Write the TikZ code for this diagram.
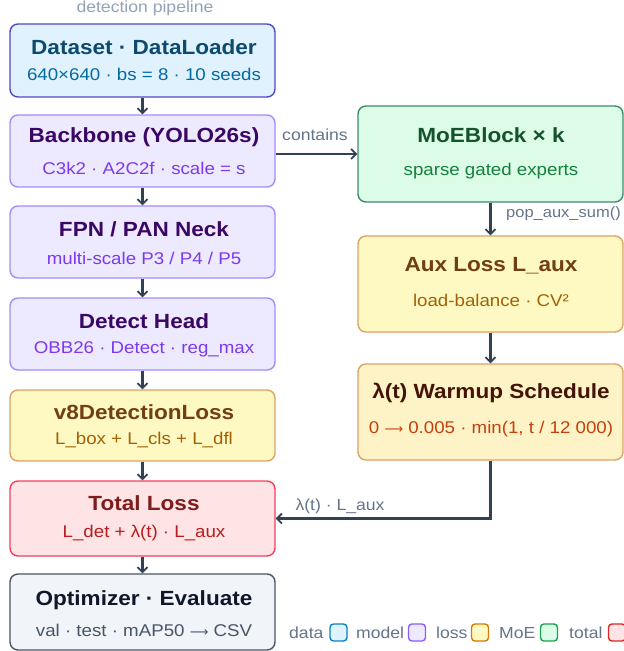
\documentclass[tikz,border=0pt]{standalone}
\usepackage{fontspec}
\setmainfont[FakeStretch=1.1]{Liberation Sans}
\newfontfamily\arrowfont{DejaVu Sans}
\newcommand{\rarr}{{\arrowfont\fontsize{13}{15}\selectfont ⟶}}
\usetikzlibrary{arrows.meta,calc}
\definecolor{arrowc}{HTML}{334155}
\definecolor{labelc}{HTML}{64748B}
\definecolor{headc}{HTML}{94A3B8}
\definecolor{dataF}{HTML}{E0F2FE}\definecolor{dataB}{HTML}{5146C9}\definecolor{dataT}{HTML}{0C4A6E}\definecolor{dataS}{HTML}{0369A1}
\definecolor{modF}{HTML}{EDE9FE}\definecolor{modB}{HTML}{A78BFA}\definecolor{modT}{HTML}{3B0764}\definecolor{modS}{HTML}{7C3AED}
\definecolor{lossF}{HTML}{FEF9C3}\definecolor{lossF2}{HTML}{FEF3C7}\definecolor{lossB}{HTML}{DDA266}\definecolor{lossT}{HTML}{713F12}\definecolor{lossS}{HTML}{A16207}
\definecolor{lamT}{HTML}{431407}\definecolor{lamS}{HTML}{C2410C}
\definecolor{moeF}{HTML}{DCFCE7}\definecolor{moeB}{HTML}{3D8B6D}\definecolor{moeT}{HTML}{14532D}\definecolor{moeS}{HTML}{15803D}
\definecolor{totF}{HTML}{FFE4E6}\definecolor{totB}{HTML}{F43F5E}\definecolor{totT}{HTML}{7F1D1D}\definecolor{totS}{HTML}{B91C1C}
\definecolor{optF}{HTML}{F1F5F9}\definecolor{optB}{HTML}{4B5563}\definecolor{optT}{HTML}{0F172A}\definecolor{optS}{HTML}{475569}
\definecolor{lgDataB}{HTML}{0284C7}\definecolor{lgModB}{HTML}{8B5CF6}\definecolor{lgLossB}{HTML}{D97706}\definecolor{lgMoeB}{HTML}{16A34A}\definecolor{lgTotB}{HTML}{DC2626}
\tikzset{
  box/.style={draw, rounded corners=8pt, line width=1.4pt, inner sep=0pt, minimum width=265pt},
  ttl/.style={font=\fontsize{20.5}{22}\selectfont\bfseries, inner sep=0pt},
  sub/.style={font=\fontsize{17}{19}\selectfont, inner sep=0pt},
  lbl/.style={font=\fontsize{16}{18}\selectfont, text=labelc, inner sep=0pt},
  conn/.style={draw=arrowc, line width=2.4pt, -{Straight Barb[length=5pt,width=10pt,line width=1.8pt]}},
  lgbox/.style={draw, rounded corners=3.5pt, line width=1.4pt, minimum width=17pt, minimum height=17pt, inner sep=0pt}
}
\begin{document}
\begin{tikzpicture}[x=1pt,y=-1pt]
\useasboundingbox (0,0) rectangle (624,651);
% title
\node[lbl, text=headc] (head) at (145,8) {detection pipeline};
% left column
\node[box, fill=dataF, draw=dataB, minimum height=73pt] (ds) at (142.5,60.5) {};
\node[ttl, text=dataT] (dsT) at (144,47) {Dataset · DataLoader};
\node[sub, text=dataS] (dsS) at (144,74) {640×640 · bs = 8 · 10 seeds};

\node[box, fill=modF, draw=modB, minimum height=72pt] (bb) at (142.5,151) {};
\node[ttl, text=modT] (bbT) at (144,137) {Backbone (YOLO26s)};
\node[sub, text=modS] (bbS) at (144,168) {C3k2 · A2C2f · scale = s};

\node[box, fill=modF, draw=modB, minimum height=72pt] (fpn) at (142.5,242) {};
\node[ttl, text=modT] (fpnT) at (144,229) {FPN / PAN Neck};
\node[sub, text=modS] (fpnS) at (144,258) {multi-scale P3 / P4 / P5};

\node[box, fill=modF, draw=modB, minimum height=72pt] (dh) at (142.5,334) {};
\node[ttl, text=modT] (dhT) at (144,321) {Detect Head};
\node[sub, text=modS] (dhS) at (144,349) {OBB26 · Detect · reg\_max};

\node[box, fill=lossF, draw=lossB, minimum height=71pt] (v8) at (142.5,425.5) {};
\node[ttl, text=lossT] (v8T) at (144,412) {v8DetectionLoss};
\node[sub, text=lossS] (v8S) at (144,440) {L\_box + L\_cls + L\_dfl};

\node[box, fill=totF, draw=totB, minimum height=75pt] (tl) at (142.5,518.5) {};
\node[ttl, text=totT] (tlT) at (144,503) {Total Loss};
\node[sub, text=totS] (tlS) at (144,533) {L\_det + λ(t) · L\_aux};

\node[box, fill=optF, draw=optB, minimum height=76pt] (op) at (142.5,612) {};
\node[ttl, text=optT] (opT) at (144,600) {Optimizer · Evaluate};
\node[sub, text=optS] (opS) at (144,630) {val · test · mAP50 \rarr{} CSV};

% right column
\node[box, fill=moeF, draw=moeB, minimum height=96pt] (moe) at (490.5,154) {};
\node[ttl, text=moeT] (moeT) at (491,135) {MoEBlock × k};
\node[sub, text=moeS] (moeS) at (491,171) {sparse gated experts};

\node[box, fill=lossF, draw=lossB, minimum height=96pt] (aux) at (490.5,284) {};
\node[ttl, text=lossT] (auxT) at (491,266) {Aux Loss L\_aux};
\node[sub, text=lossS] (auxS) at (491,300) {load-balance · CV²};

\node[box, fill=lossF2, draw=lossB, minimum height=96pt] (lam) at (490.5,412) {};
\node[ttl, text=lamT] (lamT) at (491,393) {λ(t) Warmup Schedule};
\node[sub, text=lamS] (lamS) at (491,429) {0 \rarr{} 0.005 · min(1, t / 12 000)};

% connectors
\draw[conn] (ds) -- (bb);
\draw[conn] (bb) -- (fpn);
\draw[conn] (fpn) -- (dh);
\draw[conn] (dh) -- (v8);
\draw[conn] (v8) -- (tl);
\draw[conn] (tl) -- (op);
\draw[conn] (bb.east |- moe.west) -- (moe.west);
\draw[conn] (moe) -- (aux);
\draw[conn] (aux) -- (lam);
\draw[conn] (lam.south) |- (tl.east);
\node[lbl] (cont) at (315,135) {contains};
\node[lbl, anchor=west, font=\fontsize{15}{17}\selectfont] (pop) at (506,214) {pop\_aux\_sum()};
\node[lbl] (lamlab) at (340,506) {λ(t) · L\_aux};

% legend
\node[lbl, anchor=west] (lg1) at (289,633) {data};
\node[lgbox, fill=dataF, draw=lgDataB] (lb1) at (338.5,632.5) {};
\node[lbl, anchor=west] (lg2) at (356,633) {model};
\node[lgbox, fill=modF, draw=lgModB] (lb2) at (417,632.5) {};
\node[lbl, anchor=west] (lg3) at (436,633) {loss};
\node[lgbox, fill=lossF, draw=lgLossB] (lb3) at (480,632.5) {};
\node[lbl, anchor=west] (lg4) at (499,633) {MoE};
\node[lgbox, fill=moeF, draw=lgMoeB] (lb4) at (549,632.5) {};
\node[lbl, anchor=west] (lg5) at (569,633) {total};
\node[lgbox, fill=totF, draw=lgTotB] (lb5) at (617,632.5) {};
\end{tikzpicture}
\end{document}
